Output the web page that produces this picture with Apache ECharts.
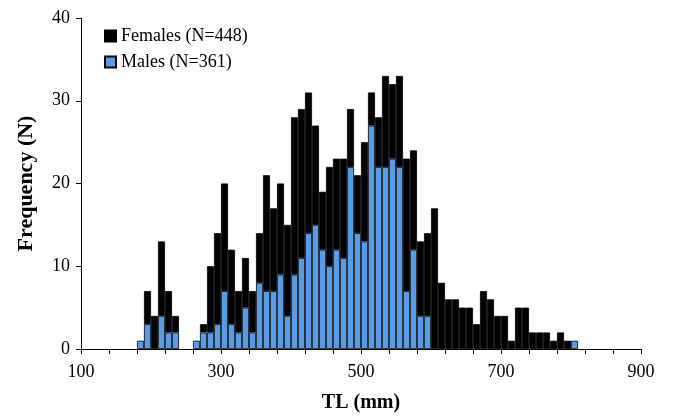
<!DOCTYPE html>
<html>
<head>
<meta charset="utf-8">
<script src="https://cdn.jsdelivr.net/npm/echarts@6/dist/echarts.min.js"></script>
<style>html,body{margin:0;padding:0;background:#fff}#c{width:674px;height:418px}</style>
</head>
<body>
<div id="c"></div>
<script>
// 10 mm length bins (lower edge, mm) across the whole axis range 100-900
var categories = [100,110,120,130,140,150,160,170,180,190,200,210,220,230,240,250,260,270,280,290,300,310,320,330,340,350,360,370,380,390,400,410,420,430,440,450,460,470,480,490,500,510,520,530,540,550,560,570,580,590,600,610,620,630,640,650,660,670,680,690,700,710,720,730,740,750,760,770,780,790,800,810,820,830,840,850,860,870,880,890];
// bins that hold fish
var binStarts = [180,190,200,210,220,230,240,250,260,270,280,290,300,310,320,330,340,350,360,370,380,390,400,410,420,430,440,450,460,470,480,490,500,510,520,530,540,550,560,570,580,590,600,610,620,630,640,650,660,670,680,690,700,710,720,730,740,750,760,770,780,790,800];
var males   = [1,3,0,4,2,2,0,0,1,2,2,3,7,3,2,5,2,8,7,7,9,4,9,11,14,15,12,10,12,11,22,14,13,27,22,22,23,22,7,12,4,4,0,0,0,0,0,0,0,0,0,0,0,0,0,0,0,0,0,0,0,0,1];
var females = [0,4,4,9,5,2,0,0,0,1,8,11,13,9,5,6,5,6,14,10,11,11,19,18,17,12,7,12,11,12,7,7,12,4,6,11,9,11,16,12,9,10,17,8,6,6,5,5,3,7,6,4,4,1,5,5,2,2,2,1,2,1,0];
var xTickLabels = [100,300,500,700,900];
var yTicks = [0,10,20,30,40];

function fullSeries(vals){
  return categories.map(function(c){
    var i = binStarts.indexOf(c);
    return (i >= 0 && vals[i] > 0) ? vals[i] : null;
  });
}
var serif = 'Liberation Serif';
var chart = echarts.init(document.getElementById('c'), null, {renderer:'canvas'});
chart.setOption({
  animation:false,
  backgroundColor:'#ffffff',
  grid:{left:81,right:33,top:18,bottom:68,containLabel:false},
  legend:{
    orient:'vertical', left:99, top:22, itemWidth:11, itemHeight:11, itemGap:8,
    textStyle:{fontFamily:serif,fontSize:18,color:'#000'},
    data:[
      {name:'Females (N=448)', icon:'rect'},
      {name:'Males (N=361)', icon:'rect'}
    ]
  },
  xAxis:[{
    type:'category', data:categories.map(String), boundaryGap:true,
    axisLine:{show:false}, axisTick:{show:false}, axisLabel:{show:false}, splitLine:{show:false}
  },{
    type:'value', min:100, max:900, interval:40, position:'bottom',
    name:'TL (mm)', nameLocation:'middle', nameGap:44,
    nameTextStyle:{fontFamily:serif,fontSize:20,fontWeight:'bold',color:'#000'},
    axisLine:{show:true,lineStyle:{color:'#000',width:1}},
    axisTick:{show:true,inside:false,length:5,lineStyle:{color:'#000'}},
    axisLabel:{fontFamily:serif,fontSize:18,color:'#000',margin:14,
      formatter:function(v){ return xTickLabels.indexOf(v)>=0 ? String(v) : ''; }},
    splitLine:{show:false}
  }],
  yAxis:{
    type:'value', min:0, max:40, interval:10,
    name:'Frequency (N)', nameLocation:'middle', nameGap:44,
    nameTextStyle:{fontFamily:serif,fontSize:22,fontWeight:'bold',color:'#000'},
    axisLine:{show:true,lineStyle:{color:'#000',width:1}},
    axisTick:{show:true,length:5,lineStyle:{color:'#000'}},
    axisLabel:{fontFamily:serif,fontSize:18,color:'#000',margin:11,
      formatter:function(v){ return yTicks.indexOf(v)>=0 ? String(v) : ''; }},
    splitLine:{show:false}
  },
  series:[
    {name:'Males (N=361)', type:'bar', stack:'tot', xAxisIndex:0, barWidth:7,
     itemStyle:{color:'#5b9be6',borderColor:'#000',borderWidth:0.8},
     data:fullSeries(males)},
    {name:'Females (N=448)', type:'bar', stack:'tot', xAxisIndex:0, barWidth:7,
     itemStyle:{color:'#000',borderColor:'#000',borderWidth:0.8},
     data:fullSeries(females)}
  ]
});
</script>
</body>
</html>
